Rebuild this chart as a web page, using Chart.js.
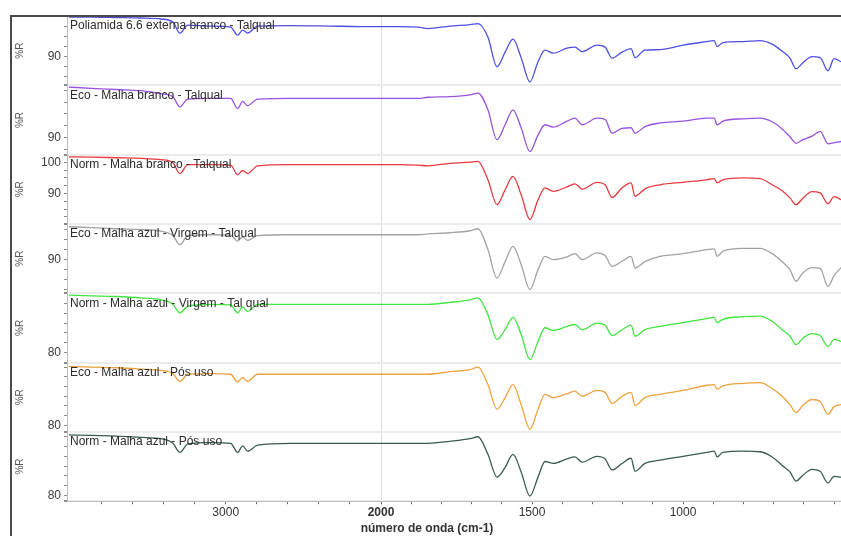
<!DOCTYPE html>
<html>
<head>
<meta charset="utf-8">
<script src="https://cdn.jsdelivr.net/npm/chart.js@4.4.1/dist/chart.umd.min.js"></script>
<style>
  html, body { margin: 0; padding: 0; background: #ffffff; }
  canvas { display: block; }
</style>
</head>
<body>
<canvas id="ftir" width="841" height="536"></canvas>
<script>
// Wavenumbers (cm-1) shared by every spectrum, high to low
const wavenumbers = [4010, 3865, 3705, 3545, 3417, 3340, 3295, 3244, 3096, 2968,
  2923, 2891, 2859, 2795, 2583, 2327, 2135, 2000, 1937, 1877,
  1844, 1772, 1705, 1679, 1646, 1616, 1589, 1563, 1536, 1507,
  1480, 1457, 1430, 1384, 1358, 1334, 1285, 1258, 1235, 1202,
  1172, 1159, 1126, 1076, 1000, 921, 897, 887, 868, 801,
  745, 705, 672, 646, 626, 603, 573, 546, 520, 500, 477];

// %R values, one array per sample
const poliamidaExterna = [97.9, 97.9, 97.8, 97.7, 97.5, 96.9, 94.7, 96.3, 96.1, 95.9,
  94.3, 95.3, 94.7, 96.1, 96.2, 96.1, 96.0, 96.0, 96.0, 95.9,
  95.6, 96.1, 96.4, 96.6, 93.9, 88.0, 90.9, 93.5, 89.8, 85.0,
  89.0, 91.3, 90.7, 91.7, 91.9, 91.0, 92.3, 91.9, 89.7, 90.9,
  91.6, 89.8, 91.3, 91.4, 92.3, 93.0, 93.2, 92.0, 92.8, 93.0,
  93.2, 92.5, 91.1, 89.7, 87.6, 88.8, 90.0, 89.8, 87.2, 89.6, 89.0];

const ecoMalhaBranco = [98.5, 98.3, 98.1, 97.9, 97.4, 96.9, 95.2, 96.5, 96.6, 96.6,
  94.9, 96.1, 95.4, 96.5, 96.6, 96.6, 96.6, 96.6, 96.6, 96.6,
  96.8, 96.9, 97.2, 97.5, 94.7, 89.7, 92.2, 94.7, 91.7, 87.7,
  90.5, 92.2, 91.8, 92.8, 93.3, 92.2, 93.3, 93.1, 90.8, 91.6,
  91.7, 90.8, 91.9, 92.5, 92.8, 93.3, 93.3, 92.2, 92.8, 93.2,
  93.3, 92.7, 91.5, 90.2, 89.1, 89.7, 90.3, 91.1, 89.0, 89.2, 89.4];

const normMalhaBranco = [101.8, 101.7, 101.5, 101.3, 100.9, 99.9, 96.4, 99.3, 99.3, 99.1,
  96.0, 97.4, 96.4, 98.9, 99.3, 99.3, 99.3, 99.3, 99.3, 99.1,
  98.9, 99.7, 100.1, 100.3, 94.4, 86.4, 91.2, 95.5, 89.6, 81.6,
  88.0, 91.8, 90.7, 92.1, 93.1, 91.4, 93.6, 92.8, 88.7, 91.8,
  93.4, 89.1, 91.5, 92.8, 93.6, 94.4, 94.8, 93.4, 94.4, 95.0,
  94.8, 92.8, 90.9, 88.6, 86.4, 88.5, 90.6, 90.2, 86.7, 89.0, 88.0];

const ecoAzulVirgem = [98.2, 98.0, 97.7, 97.5, 97.1, 96.0, 93.7, 96.0, 96.2, 96.1,
  94.6, 95.7, 94.8, 96.0, 96.2, 96.2, 96.2, 96.2, 96.2, 96.2,
  96.4, 96.7, 97.2, 97.7, 92.5, 85.4, 89.5, 93.3, 88.8, 82.5,
  87.5, 90.8, 90.0, 90.7, 91.5, 90.0, 91.7, 91.0, 88.3, 89.6,
  90.8, 87.9, 89.5, 90.8, 91.5, 92.5, 92.7, 90.8, 92.1, 92.8,
  92.8, 91.5, 89.5, 87.5, 84.6, 86.7, 88.0, 87.8, 83.3, 86.0, 88.0];

const normAzulVirgem = [88.8, 88.7, 88.6, 88.4, 88.1, 87.4, 86.1, 87.1, 87.4, 87.3,
  86.1, 87.0, 86.3, 87.4, 87.4, 87.4, 87.4, 87.4, 87.4, 87.4,
  87.4, 87.7, 88.1, 88.4, 85.8, 82.0, 83.5, 85.4, 82.8, 78.9,
  81.7, 83.8, 83.4, 84.0, 84.3, 83.5, 84.5, 84.2, 82.6, 83.5,
  84.2, 82.5, 83.5, 84.0, 84.6, 85.2, 85.4, 84.6, 85.1, 85.5,
  85.6, 84.8, 83.5, 82.5, 81.2, 82.2, 82.9, 82.6, 80.9, 82.0, 81.7];

const ecoAzulPosUso = [89.1, 89.0, 88.9, 88.7, 88.5, 88.0, 86.8, 87.9, 88.0, 87.9,
  86.7, 87.4, 86.8, 87.9, 87.9, 87.9, 87.9, 87.9, 87.9, 87.9,
  87.9, 88.3, 88.6, 89.0, 86.3, 82.5, 84.3, 86.3, 83.2, 79.4,
  82.5, 84.8, 84.3, 84.9, 85.3, 84.5, 85.4, 85.1, 83.4, 84.5,
  85.1, 83.1, 84.3, 84.8, 85.4, 86.2, 86.3, 85.6, 86.1, 86.5,
  86.6, 85.7, 84.5, 83.2, 82.0, 83.1, 84.0, 83.7, 81.7, 82.9, 83.2];

const normAzulPosUso = [89.3, 89.2, 89.1, 88.9, 88.7, 88.0, 86.6, 87.9, 88.1, 88.0,
  86.6, 87.6, 86.8, 87.7, 88.0, 88.0, 88.0, 88.0, 88.0, 88.0,
  88.0, 88.3, 88.7, 89.0, 86.3, 82.8, 84.3, 86.3, 83.6, 79.9,
  82.8, 85.2, 84.9, 85.6, 85.9, 85.1, 86.0, 85.6, 83.9, 84.9,
  85.7, 83.7, 84.9, 85.4, 86.0, 86.6, 86.8, 85.9, 86.6, 86.8,
  86.7, 85.9, 84.6, 83.6, 82.2, 83.1, 84.0, 83.7, 81.9, 82.9, 82.8];

// Sample names, top panel first
const panelNames = [
  'Poliamida 6.6 externa branco - Talqual',
  'Eco - Malha branco - Talqual',
  'Norm - Malha branco - Talqual',
  'Eco - Malha azul - Virgem - Talqual',
  'Norm - Malha azul - Virgem - Tal qual',
  'Eco - Malha azul - Pós uso',
  'Norm - Malha azul - Pós uso'
];

// %R range of each panel and the labelled ticks
const panelMin = [84.3, 87.2, 80.2, 81.6, 78.45, 79.0, 79.1];
const panelMax = [98.1, 98.8, 102.5, 98.9, 89.1, 89.7, 89.75];
const panelTickValues = [[90], [90], [100, 90], [90], [80], [80], [80]];
const minorSteps = [2, 2, 2.5, 2.5, 1.5, 1.5, 1.5];

// Wavenumber axis: expanded scale below 2000 cm-1
const scaleBreak = 2000;
const highRange = [2000, 4022];
const lowRange = [477, 2000];
const highTickLabels = [3000, 2000];
const lowTickLabels = [1500, 1000];

const panelColors = ['#4f4fe2', '#9a52de', '#e83a3e', '#a3a3a3', '#3fe63f', '#eea23e', '#3d5b4d'];
const FONT = '"Liberation Sans", Arial, Helvetica, sans-serif';

const spectra = [poliamidaExterna, ecoMalhaBranco, normMalhaBranco, ecoAzulVirgem,
  normAzulVirgem, ecoAzulPosUso, normAzulPosUso];

// Each spectrum is split into two datasets, one per wavenumber axis
const datasets = [];
spectra.forEach((vals, i) => {
  const pts = wavenumbers.map((w, k) => ({ x: w, y: vals[k] }));
  const style = {
    label: panelNames[i],
    borderColor: panelColors[i],
    borderWidth: 1.3,
    pointRadius: 0,
    cubicInterpolationMode: 'monotone',
    yAxisID: 'y' + (i + 1)
  };
  datasets.push(Object.assign({}, style, { xAxisID: 'xHigh', data: pts.filter(p => p.x >= scaleBreak) }));
  datasets.push(Object.assign({}, style, { xAxisID: 'xLow', data: pts.filter(p => p.x <= scaleBreak) }));
});

const xTickFont = c => ({ family: FONT, size: 12, weight: (c.tick && c.tick.value === scaleBreak) ? 'bold' : 'normal' });

const scales = {
  xHigh: {
    type: 'linear', position: 'bottom', stack: 'wn', stackWeight: 314, weight: 1,
    reverse: true, min: highRange[0], max: highRange[1],
    afterBuildTicks: s => {
      const t = [];
      for (let v = 2000; v <= 3800; v += 200) t.push({ value: v });
      s.ticks = t;
    },
    ticks: {
      autoSkip: false, maxRotation: 0, padding: 1, color: '#333', font: xTickFont,
      callback: v => highTickLabels.includes(v) ? String(v) : ''
    },
    grid: { drawOnChartArea: false, tickLength: 3, tickColor: '#666' },
    border: { color: '#bdbdbd' }
  },
  xLow: {
    type: 'linear', position: 'bottom', stack: 'wn', stackWeight: 460, weight: 2,
    reverse: true, min: lowRange[0], max: lowRange[1],
    afterBuildTicks: s => {
      const t = [];
      for (let v = 500; v <= 2000; v += 100) t.push({ value: v });
      s.ticks = t;
    },
    ticks: {
      autoSkip: false, maxRotation: 0, padding: 1, color: '#333', font: xTickFont,
      callback: v => lowTickLabels.includes(v) ? String(v) : ''
    },
    grid: {
      drawOnChartArea: true, tickLength: 3, tickColor: '#666',
      color: c => (c.tick && c.tick.value === scaleBreak) ? '#dcdcdc' : 'rgba(0,0,0,0)'
    },
    border: { color: '#bdbdbd' }
  }
};

panelNames.forEach((name, i) => {
  scales['y' + (i + 1)] = {
    type: 'linear', position: 'left', stack: 'panels', stackWeight: 1, weight: 7 - i,
    min: panelMin[i], max: panelMax[i],
    afterBuildTicks: s => {
      const major = panelTickValues[i][0];
      const step = minorSteps[i];
      const vals = [];
      for (let v = major; v <= s.max + 1e-9; v += step) vals.push(v);
      for (let v = major - step; v >= s.min - 1e-9; v -= step) vals.push(v);
      vals.push(panelMin[i]);
      const uniq = Array.from(new Set(vals.map(v => Math.round(v * 1000) / 1000)));
      s.ticks = uniq.sort((a, b) => a - b).map(v => ({ value: v }));
    },
    afterFit: s => { s.width = 54; },
    title: { display: true, text: '%R', color: '#555', font: { family: FONT, size: 10 }, padding: { top: 1, bottom: 0 } },
    ticks: {
      autoSkip: false, padding: 3, color: '#3c3c3c', font: { family: FONT, size: 12 },
      callback: v => panelTickValues[i].includes(v) ? String(v) : ''
    },
    grid: {
      drawOnChartArea: true, tickLength: 3, tickColor: '#8a8a8a',
      color: c => (c.tick && c.tick.value === panelMin[i]) ? '#ececec' : 'rgba(0,0,0,0)',
      lineWidth: c => (c.tick && c.tick.value === panelMin[i]) ? 2 : 1
    },
    border: { color: '#bdbdbd' }
  };
});

// Sample name written at the top-left of each panel, and the outer frame
const panelLabels = {
  id: 'panelLabels',
  afterDatasetsDraw(chart) {
    const ctx = chart.ctx;
    ctx.save();
    ctx.font = '12px ' + FONT;
    ctx.fillStyle = '#2c2c2c';
    ctx.textAlign = 'left';
    ctx.textBaseline = 'middle';
    panelNames.forEach((name, i) => {
      const s = chart.scales['y' + (i + 1)];
      ctx.fillText(name, chart.chartArea.left + 3, s.top + 10);
    });
    ctx.restore();
  },
  afterDraw(chart) {
    const ctx = chart.ctx;
    const top = chart.chartArea.top;
    ctx.save();
    ctx.strokeStyle = '#4a4a4a';
    ctx.lineWidth = 2;
    ctx.beginPath();
    ctx.moveTo(11, chart.height);
    ctx.lineTo(11, top);
    ctx.lineTo(chart.width, top);
    ctx.stroke();
    ctx.restore();
  }
};

new Chart(document.getElementById('ftir'), {
  type: 'line',
  data: { datasets },
  options: {
    responsive: false,
    animation: false,
    devicePixelRatio: 1,
    layout: { padding: { left: 13, top: 16, right: 0, bottom: 0 } },
    scales,
    plugins: {
      legend: { display: false },
      tooltip: { enabled: false },
      title: {
        display: true, position: 'bottom', text: 'número de onda (cm-1)',
        color: '#333', font: { family: FONT, size: 12, weight: 'bold' },
        padding: { top: 1, bottom: 0 }
      }
    }
  },
  plugins: [panelLabels]
});
</script>
</body>
</html>
